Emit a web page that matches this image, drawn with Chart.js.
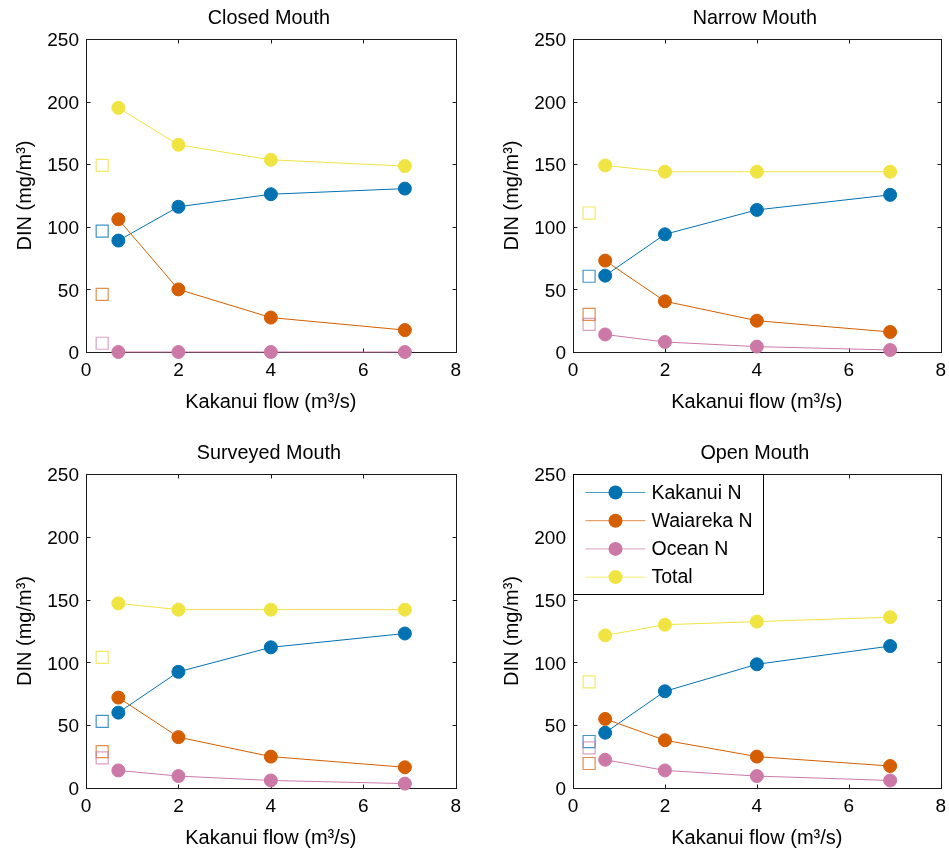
<!DOCTYPE html>
<html lang="en">
<head>
  <meta charset="UTF-8">
  <title>DIN vs Kakanui flow</title>
  <script src="https://cdn.jsdelivr.net/npm/chart.js"></script>
  <style>
    body { margin: 0; background: #fff; }
    #figure { position: relative; width: 949px; height: 851px; }
    #figure canvas { position: absolute; }
  </style>
</head>
<body>
<div id="figure">
  <canvas id="closed" width="468" height="425" style="left:0px; top:0px;"></canvas>
  <canvas id="narrow" width="466" height="425" style="left:487px; top:0px;"></canvas>
  <canvas id="surveyed" width="468" height="426" style="left:0px; top:435px;"></canvas>
  <canvas id="open" width="466" height="426" style="left:487px; top:435px;"></canvas>
</div>

<script>
  // Kakanui flow (m3/s) for the modelled points
  const flows = [0.7, 2, 4, 6.9];
  // the open squares sit just left of the first flow
  const squareX = 0.35;

  const seriesNames = ['Kakanui N', 'Waiareka N', 'Ocean N', 'Total'];
  const seriesColors = ['#0072B2', '#D55E00', '#CC79A7', '#F0E442'];
  const squareColors = ['rgba(0,114,178,0.75)', 'rgba(213,94,0,0.7)', 'rgba(204,121,167,0.7)', 'rgba(240,228,66,0.8)'];

  // DIN (mg/m3)
  const closedKakanui = [89, 116, 126, 130.5];
  const closedWaiareka = [106, 50, 27.5, 17.5];
  const closedOcean = [0, 0, 0, 0];
  const closedTotal = [195, 165.5, 153.5, 148.5];
  const closedSquares = [96.5, 46, 7, 149]; // Kakanui, Waiareka, Ocean, Total

  const narrowKakanui = [61, 94, 113.5, 125.5];
  const narrowWaiareka = [73, 40.5, 25, 16];
  const narrowOcean = [14, 8, 4.3, 1.6];
  const narrowTotal = [149, 144, 144, 144];
  const narrowSquares = [60.5, 30, 22, 111];

  const surveyedKakanui = [60, 92.5, 112, 123];
  const surveyedWaiareka = [72, 40.5, 25, 16.5];
  const surveyedOcean = [14, 9.5, 6, 3.5];
  const surveyedTotal = [147, 142, 142, 142];
  const surveyedSquares = [53, 29, 24, 104];

  const openKakanui = [44, 77, 98.5, 113];
  const openWaiareka = [55, 38, 25, 17.5];
  const openOcean = [22.5, 14, 9.5, 6];
  const openTotal = [121.5, 130, 132.5, 136];
  const openSquares = [37, 19.5, 32, 84.5];

  const fontFamily = '"Liberation Sans", Arial, sans-serif';
  Chart.defaults.font.family = fontFamily;
  Chart.defaults.font.size = 19;
  Chart.defaults.color = '#000';

  // box with inward ticks on all four sides, like a matlab axes
  const boxAxes = {
    id: 'boxAxes',
    beforeDatasetsDraw(chart) {
      const { ctx, chartArea: a, scales: { x, y } } = chart;
      const L = Math.round(a.left) + 0.5, R = Math.round(a.right) + 0.5;
      const T = Math.round(a.top) + 0.5, B = Math.round(a.bottom) + 0.5;
      const tl = 4;
      ctx.save();
      ctx.strokeStyle = '#1a1a1a';
      ctx.lineWidth = 1;
      ctx.strokeRect(L, T, R - L, B - T);
      ctx.beginPath();
      x.ticks.forEach(t => {
        const px = Math.round(x.getPixelForValue(t.value)) + 0.5;
        ctx.moveTo(px, B); ctx.lineTo(px, B - tl);
        ctx.moveTo(px, T); ctx.lineTo(px, T + tl);
      });
      y.ticks.forEach(t => {
        const py = Math.round(y.getPixelForValue(t.value)) + 0.5;
        ctx.moveTo(L, py); ctx.lineTo(L + tl, py);
        ctx.moveTo(R, py); ctx.lineTo(R - tl, py);
      });
      ctx.stroke();
      ctx.restore();
    }
  };

  // title centred over the plot area
  const panelTitle = {
    id: 'panelTitle',
    afterDraw(chart, args, opts) {
      const { ctx, chartArea: a } = chart;
      ctx.save();
      ctx.font = '19.8px ' + fontFamily;
      ctx.fillStyle = '#000';
      ctx.textAlign = 'center';
      ctx.textBaseline = 'middle';
      ctx.fillText(opts.text, (a.left + a.right) / 2 - 2, a.top - 20);
      ctx.restore();
    }
  };

  // legend box in the upper left corner of the plot
  const boxLegend = {
    id: 'boxLegend',
    afterDraw(chart, args, opts) {
      if (!opts.show) return;
      const { ctx, chartArea: a } = chart;
      const L = Math.round(a.left) + 0.5, T = Math.round(a.top) + 0.5;
      const w = 190, h = 120, rowH = 28.2;
      ctx.save();
      ctx.fillStyle = '#fff';
      ctx.fillRect(L, T, w, h);
      ctx.strokeStyle = '#000';
      ctx.lineWidth = 1;
      ctx.strokeRect(L, T, w, h);
      ctx.font = '19.5px ' + fontFamily;
      ctx.textBaseline = 'middle';
      seriesNames.forEach((name, i) => {
        const cy = T + 18 + i * rowH;
        ctx.globalAlpha = 0.7;
        ctx.strokeStyle = seriesColors[i];
        ctx.beginPath();
        ctx.moveTo(L + 12, cy);
        ctx.lineTo(L + 72, cy);
        ctx.stroke();
        ctx.globalAlpha = 1;
        ctx.fillStyle = seriesColors[i];
        ctx.beginPath();
        ctx.arc(L + 42, cy, 7, 0, Math.PI * 2);
        ctx.fill();
        ctx.fillStyle = '#000';
        ctx.fillText(name, L + 78, cy + 1);
      });
      ctx.restore();
    }
  };

  function buildDatasets(series, squares) {
    const sets = [];
    series.forEach((vals, i) => {
      sets.push({
        label: seriesNames[i],
        data: flows.map((f, j) => ({ x: f, y: vals[j] })),
        showLine: true,
        borderColor: seriesColors[i],
        borderWidth: 1,
        pointRadius: 6.5,
        pointBorderWidth: 1,
        pointBackgroundColor: seriesColors[i],
        pointBorderColor: seriesColors[i],
        clip: false,
        order: 8 - i
      });
      sets.push({
        label: seriesNames[i] + ' (mouth)',
        data: [{ x: squareX, y: squares[i] }],
        showLine: false,
        pointStyle: 'rect',
        pointRadius: 8.5,
        pointBorderWidth: 1.2,
        pointBackgroundColor: 'rgba(0,0,0,0)',
        pointBorderColor: squareColors[i],
        clip: false,
        order: 4 - i
      });
    });
    return sets;
  }

  function drawPanel(id, title, series, squares, showLegend) {
    const ctx = document.getElementById(id).getContext('2d');
    new Chart(ctx, {
      type: 'scatter',
      data: { datasets: buildDatasets(series, squares) },
      options: {
        responsive: false,
        animation: false,
        events: [],
        layout: { padding: { top: 39, right: 12, left: 0, bottom: 0 } },
        plugins: {
          legend: { display: false },
          tooltip: { enabled: false },
          panelTitle: { text: title },
          boxLegend: { show: showLegend }
        },
        scales: {
          x: {
            type: 'linear',
            min: 0,
            max: 8,
            ticks: { stepSize: 2, padding: 7, maxRotation: 0 },
            grid: { display: false, drawTicks: false },
            border: { display: false },
            title: { display: true, text: 'Kakanui flow (m³/s)', font: { size: 20 }, padding: { top: 0, bottom: 11 } },
            afterFit(scale) { scale.height = 73; }
          },
          y: {
            min: 0,
            max: 250,
            ticks: { stepSize: 50, padding: 7, labelOffset: 2 },
            grid: { display: false, drawTicks: false },
            border: { display: false },
            title: { display: true, text: 'DIN (mg/m³)', font: { size: 20 }, padding: { top: 13.6, bottom: 0 } },
            afterFit(scale) { scale.width = 86; }
          }
        }
      },
      plugins: [boxAxes, panelTitle, boxLegend]
    });
  }

  drawPanel('closed', 'Closed Mouth', [closedKakanui, closedWaiareka, closedOcean, closedTotal], closedSquares, false);
  drawPanel('narrow', 'Narrow Mouth', [narrowKakanui, narrowWaiareka, narrowOcean, narrowTotal], narrowSquares, false);
  drawPanel('surveyed', 'Surveyed Mouth', [surveyedKakanui, surveyedWaiareka, surveyedOcean, surveyedTotal], surveyedSquares, false);
  drawPanel('open', 'Open Mouth', [openKakanui, openWaiareka, openOcean, openTotal], openSquares, true);
</script>
</body>
</html>
